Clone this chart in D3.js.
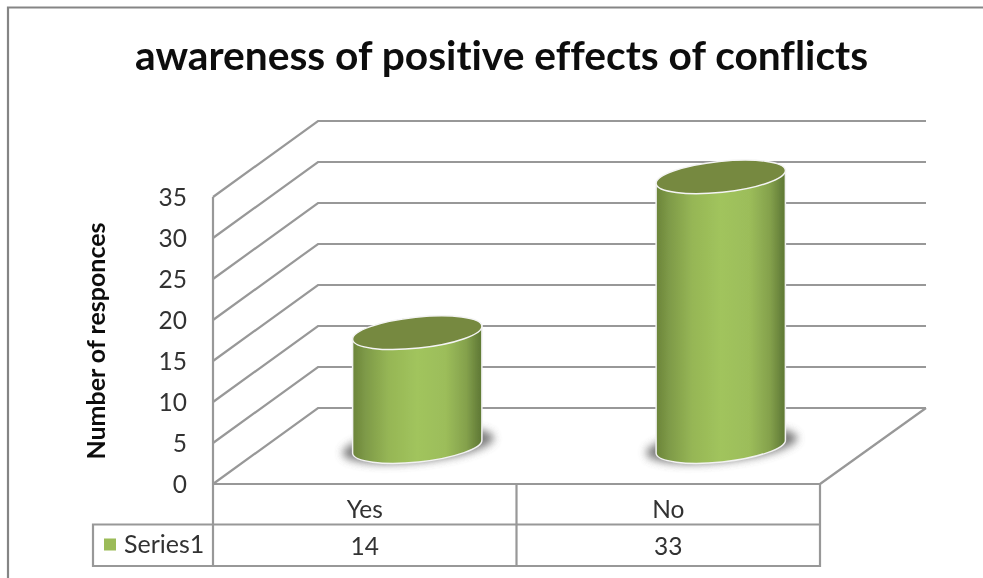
<!DOCTYPE html>
<html><head><meta charset="utf-8">
<script src="https://cdn.jsdelivr.net/npm/d3@7"></script>
<style>html,body{margin:0;padding:0;background:#fff}svg{display:block}text{font-family:Lato,"Open Sans",sans-serif;fill:#222;font-variant-ligatures:none}</style>
</head><body><svg id="c" width="983" height="578"></svg>
<script>
const categories=["Yes","No"];
const seriesName="Series1";
const values=[14,33];
const yTicks=[0,5,10,15,20,25,30,35];
const title="awareness of positive effects of conflicts";
const yTitle="Number of responces";

const svg=d3.select("#c");
const defs=svg.append("defs");
const soft=defs.append("filter").attr("id","soft").attr("x","-5%").attr("y","-5%").attr("width","110%").attr("height","110%");
soft.append("feGaussianBlur").attr("stdDeviation",0.45);
const blur=defs.append("filter").attr("id","shadow").attr("x","-20%").attr("y","-50%").attr("width","140%").attr("height","200%");
blur.append("feGaussianBlur").attr("stdDeviation",4);
const g=defs.append("linearGradient").attr("id","cyl");
[[0,"#6b8439"],[.1,"#7e9a48"],[.28,"#96b655"],[.5,"#a1c45d"],[.72,"#9cbd5a"],[.88,"#84a14c"],[.97,"#66803a"],[1,"#5f7833"]].forEach(d=>g.append("stop").attr("offset",d[0]).attr("stop-color",d[1]));

const x=d3.scaleBand().domain(categories).range([213,820]);
const y=d3.scaleLinear().domain([0,35]).range([484,197]);
const dx=105, dy=76, rightBack=926;
const line="#989898";
const root=svg.append("g").attr("filter","url(#soft)");

// chart frame
root.append("path").attr("d","M8,578V7.5H983").attr("fill","none").attr("stroke","#858585").attr("stroke-width",2.2);

// walls
const grid=root.append("g").attr("stroke",line).attr("stroke-width",2.2).attr("fill","none");
yTicks.forEach(t=>{
  grid.append("path").attr("d",`M${x.range()[0]},${y(t)}L${x.range()[0]+dx},${y(t)-dy}H${rightBack}`);
});
grid.append("path").attr("d",`M${x.range()[1]},${y(0)}L${rightBack},${y(0)-dy}`);

// data table
const rowY=[y(0),524.5,566], tableLeft=93;
const tbl=root.append("g").attr("stroke",line).attr("stroke-width",2.2).attr("fill","none");
tbl.append("path").attr("d",`M${x.range()[0]},${y(35)}V${rowY[2]}`);
tbl.append("path").attr("d",`M${x.range()[0]},${rowY[0]}H${x.range()[1]}V${rowY[2]}H${tableLeft}V${rowY[1]}H${x.range()[1]}`);
tbl.append("path").attr("d",`M${x("No")},${rowY[0]}V${rowY[2]}`);

// cylinders
const rx=65, ry=15.5, tilt=-6;
categories.forEach((c,i)=>{
  const cx=x(c)+x.bandwidth()/2+dx/2;
  const base=y(0)-dy/2+0.5, top=y(values[i])-dy/2+1.5;
  const a=tilt*Math.PI/180;
  const ex=rx*Math.cos(a), ey=rx*Math.sin(a);
  const gr=root.append("g");
  gr.append("ellipse").attr("cx",cx+1).attr("cy",base-1).attr("rx",rx+11).attr("ry",ry+1)
    .attr("transform",`rotate(${tilt} ${cx} ${base})`).attr("fill","#666").attr("opacity",.85).attr("filter","url(#shadow)");
  gr.append("path").attr("d",`M${cx-ex},${top-ey}L${cx-ex},${base-ey}A${rx},${ry} ${tilt} 0 0 ${cx+ex},${base+ey}L${cx+ex},${top+ey}Z`)
    .attr("fill","url(#cyl)").attr("stroke","#f2f2f2").attr("stroke-width",1.5);
  gr.append("ellipse").attr("cx",cx).attr("cy",top).attr("rx",rx).attr("ry",ry)
    .attr("transform",`rotate(${tilt} ${cx} ${top})`).attr("fill","#76893f").attr("stroke","#f4f4f4").attr("stroke-width",1.5);
});

// axis and labels
const axis=d3.axisLeft(y).tickValues(yTicks).tickSize(0).tickPadding(26).tickFormat(d3.format("d"));
const ax=root.append("g").attr("transform",`translate(${x.range()[0]},1)`).call(axis);
ax.select(".domain").remove();
ax.selectAll("text").attr("font-size",24.5).style("fill","#333");

root.append("text").attr("x",501.5).attr("y",70).attr("text-anchor","middle").attr("font-size",40.7).attr("font-weight",700).style("fill","#111").text(title);
root.append("text").attr("transform","translate(105,341) rotate(-90)").attr("text-anchor","middle").attr("font-size",25).attr("font-weight",700).style("fill","#111").text(yTitle);

categories.forEach((c,i)=>{
  const cx=x(c)+x.bandwidth()/2;
  root.append("text").attr("x",cx).attr("y",518).attr("text-anchor","middle").attr("font-size",24.5).style("fill","#333").text(c);
  root.append("text").attr("x",cx).attr("y",555).attr("text-anchor","middle").attr("font-size",24.5).style("fill","#333").text(values[i]);
});
root.append("rect").attr("x",104).attr("y",538.5).attr("width",12).attr("height",12).attr("fill","#9bbb59");
root.append("text").attr("x",124).attr("y",553).attr("font-size",25).style("fill","#333").text(seriesName);
</script></body></html>
